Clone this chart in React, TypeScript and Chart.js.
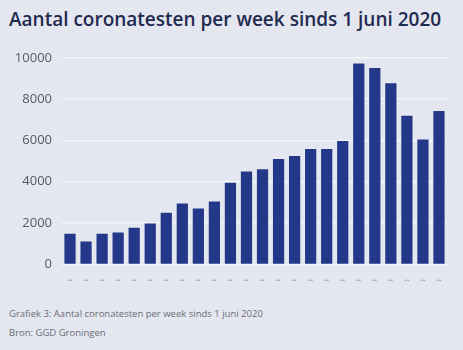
import React, { useEffect, useRef } from "react";
import { Chart, registerables } from "chart.js";

Chart.register(...registerables);

const title = "Aantal coronatesten per week sinds 1 juni 2020";
const caption = "Grafiek 3: Aantal coronatesten per week sinds 1 juni 2020";
const source = "Bron: GGD Groningen";
const weeks = [
  "..", "..", "..", "..", "..", "..", "..", "..", "..", "..", "..", "..",
  "..", "..", "..", "..", "..", "..", "..", "..", "..", "..", "..", "..",
];
const tests = [
  1480, 1110, 1480, 1550, 1780, 1980, 2500, 2950, 2700, 3050, 3950, 4500,
  4600, 5100, 5250, 5580, 5580, 5970, 9730, 9510, 8770, 7190, 6050, 7420,
];
const yTicks = [0, 2000, 4000, 6000, 8000, 10000];

export default function App() {
  const ref = useRef<HTMLCanvasElement>(null);
  useEffect(() => {
    if (!ref.current) return;
    const chart = new Chart(ref.current, {
      type: "bar",
      data: {
        labels: weeks,
        datasets: [
          {
            data: tests,
            backgroundColor: "#24388a",
            barPercentage: 0.7,
            categoryPercentage: 1,
          },
        ],
      },
      options: {
        animation: false,
        responsive: false,
        maintainAspectRatio: false,
        layout: { padding: { left: 0, right: 16, top: 9, bottom: 1 } },
        plugins: { legend: { display: false }, tooltip: { enabled: false } },
        scales: {
          x: {
            grid: { display: false, drawTicks: false },
            border: { display: false },
            ticks: {
              color: "#8a8d95",
              font: { family: "Open Sans", size: 8, weight: "bold" },
              padding: 10,
              maxRotation: 0,
              autoSkip: false,
            },
          },
          y: {
            min: 0,
            max: 10000,
            afterBuildTicks: (axis: any) => {
              axis.ticks = yTicks.map((v) => ({ value: v }));
            },
            afterFit: (axis: any) => {
              axis.width = 62;
            },
            grid: { color: "#f4f5f9", lineWidth: 1.5, drawTicks: false },
            border: { display: false },
            ticks: {
              color: "#555a66",
              font: { family: "Open Sans", size: 13 },
              padding: 10,
              callback: (v: any) => String(v),
            },
          },
        },
      },
    });
    return () => chart.destroy();
  }, []);

  return (
    <div
      style={{
        position: "fixed",
        left: 0,
        top: 0,
        width: 463,
        height: 350,
        background: "#e4e7ef",
        overflow: "hidden",
      }}
    >
      <div
        style={{
          position: "absolute",
          left: 9,
          top: 6,
          fontFamily: "Open Sans",
          fontWeight: 600,
          fontSize: 19,
          color: "#1f2a50",
          whiteSpace: "nowrap",
        }}
      >
        {title}
      </div>
      <canvas
        ref={ref}
        width={463}
        height={255}
        style={{ position: "absolute", left: 0, top: 40, width: 463, height: 255 }}
      />
      <div
        style={{
          position: "absolute",
          left: 9,
          top: 307,
          fontFamily: "Open Sans",
          fontSize: 9.5,
          color: "#6a6d75",
          whiteSpace: "nowrap",
        }}
      >
        {caption}
      </div>
      <div
        style={{
          position: "absolute",
          left: 9,
          top: 326,
          fontFamily: "Open Sans",
          fontSize: 9.5,
          color: "#6a6d75",
          whiteSpace: "nowrap",
        }}
      >
        {source}
      </div>
    </div>
  );
}
